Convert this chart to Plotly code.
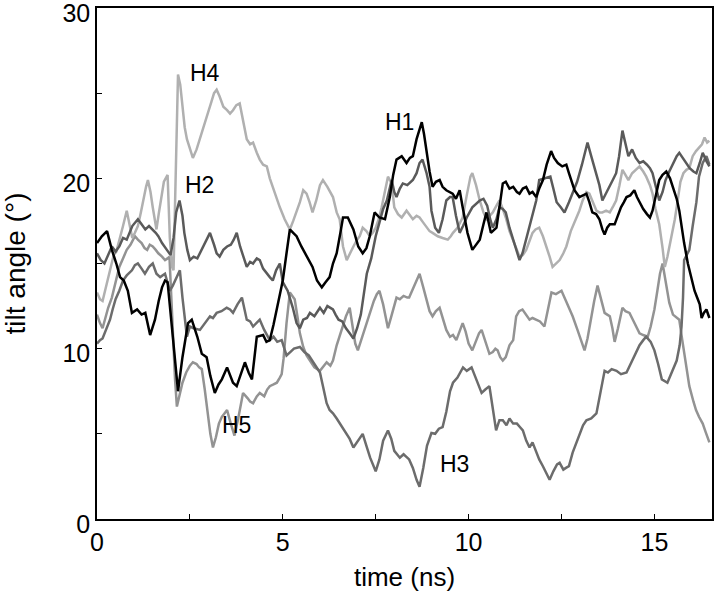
import plotly.graph_objects as go

# tilt angle traces (time in ns, angle in degrees)
h1_t = [0.0, 0.13, 0.27, 0.4, 0.52, 0.62, 0.72, 0.83, 0.94, 1.08, 1.2, 1.3, 1.43, 1.56, 1.66, 1.75, 1.83, 1.9, 2.04, 2.18,
        2.3, 2.45, 2.55, 2.7, 2.82, 2.95, 3.05, 3.17, 3.27, 3.36, 3.5, 3.6, 3.66, 3.76, 3.88, 3.98, 4.08, 4.17, 4.3, 4.47,
        4.56, 4.65, 4.75, 4.84, 4.92, 5.0, 5.1, 5.19, 5.28, 5.37, 5.5, 5.64, 5.8, 5.92, 6.05, 6.15, 6.26, 6.35, 6.45, 6.55,
        6.62, 6.75, 6.9, 7.03, 7.15, 7.25, 7.34, 7.47, 7.6, 7.75, 7.88, 7.97, 8.06, 8.2, 8.33, 8.42, 8.5, 8.6, 8.74, 8.8,
        8.87, 8.95, 9.03, 9.12, 9.22, 9.3, 9.4, 9.57, 9.66, 9.76, 9.84, 9.97, 10.1, 10.2, 10.3, 10.4, 10.48, 10.6, 10.75, 10.85,
        10.92, 11.0, 11.1, 11.2, 11.3, 11.37, 11.46, 11.55, 11.64, 11.72, 11.82, 11.9, 12.0, 12.1, 12.22, 12.3, 12.4, 12.52, 12.63, 12.7,
        12.85, 12.98, 13.07, 13.17, 13.25, 13.33, 13.43, 13.52, 13.6, 13.66, 13.73, 13.8, 13.93, 14.02, 14.1, 14.18, 14.25, 14.35, 14.46, 14.53,
        14.6, 14.7, 14.8, 14.88, 14.95, 15.05, 15.13, 15.22, 15.32, 15.42, 15.5, 15.6, 15.67, 15.73, 15.8, 15.9, 16.0, 16.08, 16.15, 16.22,
        16.27, 16.33, 16.4, 16.48]
h1_y = [16.2, 16.6, 16.9, 15.8, 15.0, 14.2, 14.0, 13.4, 12.1, 12.3, 12.0, 12.1, 10.8, 11.7, 12.8, 13.6, 14.0, 13.9, 10.7, 7.5,
        9.5, 11.5, 11.7, 10.7, 9.7, 9.5, 8.4, 7.4, 7.9, 8.2, 8.9, 8.4, 8.0, 7.8, 8.6, 9.2, 8.6, 8.2, 10.7, 10.8,
        10.4, 10.5, 11.4, 12.3, 13.2, 14.0, 15.6, 17.0, 16.8, 16.6, 16.0, 15.4, 14.8, 14.0, 13.6, 13.9, 14.2, 15.0, 15.6, 16.8,
        17.7, 17.7, 17.0, 16.0, 15.6, 15.9, 16.6, 18.0, 17.7, 17.6, 18.9, 20.2, 21.1, 21.3, 20.9, 21.2, 21.3, 22.3, 23.3, 22.6,
        21.5, 20.4, 19.5, 19.8, 19.9, 19.5, 19.3, 19.1, 18.8, 19.3, 18.3, 16.8, 15.8, 16.1, 16.4, 17.3, 18.0, 16.8, 17.1, 18.6,
        19.7, 19.8, 19.4, 19.5, 19.2, 19.1, 19.4, 19.5, 19.1, 19.2, 18.9, 19.4, 19.9, 20.8, 21.6, 21.2, 20.9, 20.7, 20.8, 20.3,
        19.3, 18.9, 19.0, 19.1, 18.6, 18.0, 17.9, 17.6, 17.0, 16.7, 17.1, 17.3, 17.3, 17.8, 18.3, 18.6, 18.9, 19.0, 19.3, 18.9,
        18.6, 18.2, 17.9, 17.7, 18.1, 19.0, 19.9, 20.2, 20.4, 20.0, 19.5, 18.8, 18.1, 17.1, 16.2, 15.0, 14.0, 13.4, 13.0, 12.6,
        11.8, 12.1, 12.3, 11.8]

h2_t = [0.0, 0.1, 0.2, 0.3, 0.4, 0.5, 0.6, 0.7, 0.8, 0.95, 1.1, 1.2, 1.3, 1.4, 1.5, 1.58, 1.65, 1.75, 1.88, 1.98,
        2.06, 2.13, 2.22, 2.3, 2.35, 2.43, 2.5, 2.6, 2.7, 2.82, 2.93, 3.04, 3.15, 3.22, 3.3, 3.4, 3.5, 3.6, 3.68, 3.76,
        3.85, 3.95, 4.03, 4.12, 4.2, 4.3, 4.38, 4.47, 4.57, 4.65, 4.73, 4.82, 4.92, 5.0, 5.13, 5.27, 5.37, 5.46, 5.55, 5.65,
        5.73, 5.85, 6.0, 6.1, 6.2, 6.35, 6.42, 6.5, 6.6, 6.7, 6.8, 6.9, 7.0, 7.1, 7.18, 7.26, 7.38, 7.5, 7.6, 7.7,
        7.8, 7.93, 8.0, 8.06, 8.15, 8.23, 8.35, 8.5, 8.6, 8.68, 8.76, 8.87, 8.95, 9.0, 9.1, 9.2, 9.3, 9.4, 9.5, 9.57,
        9.66, 9.76, 9.85, 9.95, 10.1, 10.2, 10.3, 10.4, 10.5, 10.58, 10.65, 10.75, 10.83, 10.92, 11.0, 11.1, 11.2, 11.3, 11.37, 11.45,
        11.55, 11.68, 11.82, 11.9, 12.05, 12.2, 12.28, 12.37, 12.48, 12.58, 12.7, 12.8, 12.92, 13.05, 13.2, 13.3, 13.43, 13.52, 13.6, 13.7,
        13.8, 13.88, 13.97, 14.05, 14.14, 14.22, 14.3, 14.4, 14.5, 14.6, 14.7, 14.8, 14.88, 14.95, 15.05, 15.13, 15.22, 15.3, 15.4, 15.5,
        15.6, 15.67, 15.77, 15.86, 15.95, 16.05, 16.13, 16.22, 16.3, 16.4, 16.48]
h2_y = [15.6, 15.2, 15.0, 15.5, 16.0, 15.7, 16.0, 16.5, 16.4, 17.2, 17.6, 17.3, 17.0, 17.2, 17.0, 16.8, 16.6, 16.2, 15.8, 15.5,
        16.5, 18.0, 18.7, 17.8, 16.8, 15.8, 15.2, 15.4, 15.3, 15.8, 16.3, 16.8, 16.1, 15.6, 15.4, 15.8, 16.0, 16.1, 16.4, 16.8,
        16.0, 15.3, 14.8, 15.1, 15.0, 15.3, 15.2, 14.7, 14.4, 14.2, 14.0, 14.6, 15.0, 13.9, 13.4, 12.4, 11.5, 11.2, 11.7, 11.8,
        12.1, 11.9, 12.4, 12.1, 12.5, 12.3, 12.0, 11.7, 11.6, 11.2, 10.9, 10.6, 11.2, 12.0, 13.2, 14.4, 15.3, 16.6, 17.4, 18.2,
        18.7, 19.9, 19.2, 18.9, 19.4, 19.7, 19.6, 19.9, 20.3, 20.9, 21.1, 20.3, 19.5, 18.1, 17.1, 16.8, 17.6, 18.7, 18.9, 18.9,
        17.8, 16.8, 17.2, 17.7, 18.3, 18.5, 18.7, 18.8, 18.4, 17.6, 17.1, 17.6, 18.3, 18.2, 18.0, 17.1, 16.4, 15.6, 15.2, 15.6,
        16.4, 17.5, 18.7, 19.9, 20.0, 20.1, 19.4, 18.6, 18.3, 18.0, 18.6, 19.1, 19.8, 20.8, 22.1, 21.3, 20.3, 19.6, 18.7, 19.1,
        19.5, 19.9, 20.3, 21.3, 22.8, 22.0, 21.3, 21.7, 21.2, 20.9, 21.0, 20.8, 20.6, 20.3, 19.5, 18.7, 19.2, 19.9, 20.4, 20.9,
        21.3, 21.5, 21.2, 20.9, 20.6, 20.4, 20.3, 20.9, 21.5, 21.0, 20.7]

h3_t = [0.0, 0.08, 0.15, 0.25, 0.35, 0.42, 0.5, 0.6, 0.7, 0.8, 0.94, 1.02, 1.1, 1.2, 1.29, 1.4, 1.5, 1.6, 1.7, 1.83,
        1.96, 2.04, 2.1, 2.23, 2.3, 2.37, 2.42, 2.5, 2.6, 2.77, 2.9, 3.04, 3.12, 3.22, 3.35, 3.49, 3.58, 3.66, 3.78, 3.9,
        4.03, 4.12, 4.2, 4.3, 4.38, 4.5, 4.65, 4.75, 4.85, 4.97, 5.1, 5.2, 5.3, 5.46, 5.58, 5.7, 5.85, 6.0, 6.1, 6.18,
        6.26, 6.35, 6.45, 6.6, 6.72, 6.8, 6.9, 7.02, 7.15, 7.25, 7.35, 7.5, 7.6, 7.7, 7.83, 7.92, 8.0, 8.15, 8.25, 8.4,
        8.5, 8.6, 8.68, 8.78, 8.88, 9.0, 9.1, 9.2, 9.3, 9.4, 9.5, 9.58, 9.7, 9.85, 9.95, 10.08, 10.2, 10.35, 10.45, 10.56,
        10.65, 10.74, 10.83, 10.92, 11.02, 11.1, 11.2, 11.3, 11.38, 11.46, 11.55, 11.64, 11.72, 11.82, 11.9, 12.0, 12.1, 12.18, 12.28, 12.38,
        12.45, 12.55, 12.62, 12.7, 12.8, 12.9, 13.0, 13.08, 13.17, 13.3, 13.44, 13.55, 13.66, 13.75, 13.85, 13.98, 14.1, 14.25, 14.38, 14.5,
        14.6, 14.7, 14.78, 14.9, 15.0, 15.1, 15.2, 15.35, 15.45, 15.6, 15.68, 15.73, 15.77, 15.8, 15.87, 15.94, 16.03, 16.13, 16.2, 16.3,
        16.4, 16.48]
h3_y = [10.3, 10.5, 10.6, 11.2, 11.7, 12.3, 12.9, 13.4, 14.0, 14.3, 14.6, 14.9, 15.0, 14.7, 14.4, 14.8, 15.0, 14.4, 14.2, 14.4,
        13.4, 13.7, 14.0, 14.6, 13.0, 11.7, 10.7, 11.3, 11.2, 11.1, 11.5, 11.9, 11.8, 12.1, 12.2, 12.4, 12.3, 12.1, 12.6, 13.0,
        11.7, 11.6, 11.3, 11.5, 11.7, 11.1, 10.5, 10.7, 10.4, 10.5, 9.6, 9.8, 10.0, 10.1, 9.8, 9.6, 9.1, 8.6, 7.6, 6.8,
        6.4, 6.2, 5.9, 5.4, 5.0, 4.7, 4.2, 4.6, 5.0, 4.3, 3.6, 2.8, 3.5, 4.6, 5.2, 4.7, 4.0, 3.6, 3.8, 3.5,
        3.0, 2.3, 1.9, 3.0, 4.3, 5.05, 5.0, 5.3, 5.4, 6.3, 7.5, 8.0, 8.3, 8.9, 8.7, 8.9, 8.2, 7.4, 7.6, 7.8,
        6.5, 5.2, 5.8, 5.8, 5.5, 5.9, 5.6, 5.6, 5.4, 5.2, 4.6, 4.2, 4.5, 3.9, 3.5, 3.1, 2.6, 2.3, 2.8, 3.2,
        3.3, 2.9, 3.0, 3.1, 3.9, 4.5, 5.0, 5.5, 5.8, 5.9, 6.2, 7.5, 8.7, 8.6, 8.8, 8.7, 8.5, 8.6, 9.2, 9.7,
        10.2, 10.5, 10.7, 10.4, 9.9, 9.1, 8.2, 8.0, 8.5, 9.3, 10.2, 11.3, 13.0, 15.2, 15.5, 15.8, 17.2, 18.6, 20.1, 20.9,
        21.3, 20.8]

h4_t = [0.0, 0.08, 0.15, 0.22, 0.3, 0.38, 0.45, 0.52, 0.6, 0.7, 0.8, 0.88, 0.95, 1.02, 1.1, 1.18, 1.25, 1.32, 1.37, 1.44,
        1.5, 1.56, 1.6, 1.66, 1.72, 1.8, 1.9, 1.93, 1.96, 2.02, 2.06, 2.1, 2.14, 2.18, 2.24, 2.3, 2.36, 2.42, 2.5, 2.58,
        2.68, 2.77, 2.86, 2.96, 3.08, 3.15, 3.22, 3.3, 3.4, 3.5, 3.58, 3.66, 3.75, 3.84, 3.93, 4.03, 4.12, 4.2, 4.3, 4.38,
        4.47, 4.57, 4.65, 4.73, 4.82, 4.92, 5.05, 5.19, 5.28, 5.37, 5.46, 5.55, 5.64, 5.72, 5.8, 5.9, 6.0, 6.08, 6.2, 6.35,
        6.45, 6.53, 6.62, 6.72, 6.8, 6.9, 7.0, 7.07, 7.15, 7.25, 7.34, 7.42, 7.5, 7.58, 7.66, 7.75, 7.83, 7.93, 8.0, 8.1,
        8.2, 8.33, 8.42, 8.5, 8.6, 8.68, 8.78, 8.87, 8.95, 9.03, 9.17, 9.3, 9.44, 9.52, 9.58, 9.7, 9.84, 9.95, 10.05, 10.1,
        10.2, 10.3, 10.4, 10.48, 10.57, 10.65, 10.75, 10.83, 10.92, 11.0, 11.1, 11.2, 11.3, 11.37, 11.46, 11.55, 11.64, 11.72, 11.8, 11.9,
        12.0, 12.1, 12.18, 12.26, 12.35, 12.45, 12.55, 12.63, 12.75, 12.9, 12.98, 13.07, 13.17, 13.25, 13.35, 13.44, 13.52, 13.6, 13.7, 13.8,
        13.9, 13.97, 14.06, 14.14, 14.22, 14.3, 14.4, 14.5, 14.6, 14.7, 14.78, 14.88, 14.95, 15.03, 15.13, 15.22, 15.28, 15.35, 15.45, 15.55,
        15.62, 15.7, 15.78, 15.86, 15.94, 16.03, 16.12, 16.2, 16.28, 16.35, 16.42, 16.48]
h4_y = [13.3, 12.9, 12.8, 13.4, 14.2, 14.9, 15.5, 15.7, 16.3, 17.2, 18.1, 17.3, 16.5, 16.8, 17.2, 18.0, 18.8, 19.5, 19.9, 19.2,
        18.3, 17.6, 17.0, 17.9, 18.8, 19.8, 20.2, 18.5, 16.5, 14.8, 14.6, 18.5, 22.5, 26.1, 25.5, 24.2, 23.0, 22.3, 21.7, 21.2,
        21.7, 22.3, 22.9, 23.6, 24.5, 25.0, 25.2, 24.8, 24.2, 24.0, 23.8, 24.0, 24.3, 24.4, 23.4, 22.3, 22.0, 22.1, 21.5, 21.1,
        20.8, 20.7, 20.0, 19.5, 18.9, 18.3, 17.6, 17.0, 17.5, 18.0, 18.6, 19.3, 19.1, 18.6, 18.0, 18.7, 19.6, 19.9, 19.5, 18.9,
        18.0, 17.6, 16.0, 15.2, 15.6, 16.0, 16.4, 16.6, 17.1, 16.9, 16.6, 16.8, 17.1, 17.6, 18.3, 19.2, 20.1, 19.7, 18.3, 17.9,
        17.7, 18.1, 17.8, 17.6, 17.8, 17.7, 17.4, 17.1, 16.9, 16.8, 16.6, 16.5, 16.4, 16.6, 16.8, 17.1, 17.7, 19.0, 20.1, 20.3,
        19.6, 18.7, 18.0, 17.6, 17.8, 18.0, 18.4, 18.7, 18.2, 17.7, 16.9, 16.4, 15.8, 15.4, 15.5, 15.8, 16.3, 16.8, 17.0, 17.1,
        16.6, 16.0, 15.4, 14.8, 15.0, 15.2, 15.6, 16.0, 16.9, 17.7, 18.1, 18.7, 19.2, 19.1, 18.6, 18.1, 18.0, 18.0, 18.1, 18.0,
        18.4, 18.7, 19.6, 20.5, 20.2, 19.9, 20.3, 20.5, 20.7, 20.4, 20.1, 19.6, 19.1, 18.2, 17.3, 15.9, 14.8, 15.4, 16.5, 17.6,
        18.6, 19.8, 20.3, 20.5, 20.6, 21.3, 21.6, 21.8, 22.0, 22.4, 22.1, 22.2]

h5_t = [0.0, 0.08, 0.15, 0.22, 0.3, 0.4, 0.5, 0.6, 0.7, 0.8, 0.9, 1.02, 1.1, 1.2, 1.28, 1.35, 1.42, 1.5, 1.58, 1.65,
        1.75, 1.83, 1.9, 1.95, 2.0, 2.05, 2.1, 2.15, 2.22, 2.3, 2.4, 2.5, 2.58, 2.68, 2.75, 2.82, 2.9, 2.98, 3.05, 3.12,
        3.2, 3.28, 3.36, 3.43, 3.5, 3.6, 3.7, 3.8, 3.93, 4.05, 4.12, 4.2, 4.3, 4.38, 4.5, 4.58, 4.65, 4.75, 4.84, 4.92,
        4.97, 5.02, 5.1, 5.19, 5.25, 5.32, 5.4, 5.46, 5.55, 5.64, 5.73, 5.85, 6.0, 6.1, 6.18, 6.28, 6.35, 6.45, 6.55, 6.62,
        6.7, 6.8, 6.88, 6.95, 7.02, 7.12, 7.25, 7.35, 7.45, 7.53, 7.6, 7.7, 7.78, 7.83, 7.92, 8.0, 8.06, 8.15, 8.25, 8.35,
        8.4, 8.5, 8.6, 8.68, 8.78, 8.88, 8.95, 9.03, 9.12, 9.22, 9.3, 9.4, 9.5, 9.58, 9.67, 9.75, 9.84, 9.92, 10.0, 10.1,
        10.2, 10.28, 10.35, 10.45, 10.56, 10.65, 10.72, 10.78, 10.85, 10.92, 11.0, 11.1, 11.2, 11.28, 11.36, 11.45, 11.55, 11.64, 11.72, 11.82,
        11.92, 12.04, 12.12, 12.23, 12.35, 12.5, 12.6, 12.7, 12.8, 12.93, 13.03, 13.12, 13.2, 13.3, 13.38, 13.47, 13.55, 13.6, 13.66, 13.73,
        13.8, 13.87, 13.93, 14.02, 14.08, 14.14, 14.22, 14.33, 14.42, 14.5, 14.6, 14.7, 14.82, 14.9, 15.0, 15.08, 15.15, 15.22, 15.3, 15.4,
        15.5, 15.6, 15.67, 15.75, 15.85, 15.94, 16.05, 16.12, 16.2, 16.3, 16.38, 16.48]
h5_y = [12.0, 11.5, 11.2, 11.8, 12.4, 13.0, 14.0, 14.8, 15.3, 15.8, 16.1, 16.6, 16.4, 16.2, 15.9, 15.8, 16.1, 16.0, 15.8, 15.6,
        15.4, 15.2, 15.3, 15.4, 13.0, 10.5, 8.2, 6.6, 7.2, 8.0, 8.6, 9.0, 9.2, 9.1, 8.9, 8.8, 7.6, 6.2, 5.0, 4.2,
        4.8, 5.6, 6.0, 6.2, 6.4, 5.6, 4.9, 5.9, 7.4, 7.1, 6.9, 6.8, 7.2, 7.4, 7.2, 7.6, 7.8, 7.9, 8.0, 8.3,
        8.5, 9.4, 11.5, 13.3, 13.1, 12.9, 11.8, 10.9, 10.1, 9.6, 9.3, 8.9, 8.7, 9.0, 9.2, 9.0, 9.3, 10.2, 10.9, 11.3,
        11.9, 12.4, 11.4, 10.3, 9.9, 10.6, 11.5, 12.2, 12.8, 13.2, 13.4, 12.6, 11.6, 11.2, 11.9, 12.6, 13.0, 12.9, 13.1, 13.0,
        13.0, 13.5, 14.0, 14.4, 13.6, 12.8, 12.2, 11.9, 12.2, 12.4, 11.8, 11.1, 10.7, 10.8, 10.5, 11.0, 11.5, 11.0, 10.3, 9.9,
        10.4, 10.9, 11.1, 10.4, 9.7, 9.8, 10.0, 9.9, 9.5, 9.3, 9.5, 10.2, 10.5, 11.9, 12.2, 12.3, 12.0, 11.7, 11.8, 11.7,
        11.6, 11.3, 12.2, 13.3, 13.2, 13.4, 12.9, 12.4, 11.9, 11.1, 10.5, 9.9, 10.6, 11.9, 12.8, 13.7, 13.0, 12.5, 12.1, 12.0,
        11.9, 11.2, 10.4, 11.2, 11.9, 12.4, 12.2, 12.1, 11.7, 11.3, 10.9, 10.8, 10.7, 11.3, 12.3, 13.4, 14.4, 15.0, 14.0, 12.7,
        12.0, 11.8, 11.7, 10.5, 9.1, 7.8, 6.9, 6.4, 6.0, 5.6, 5.1, 4.5]

series = [
    ('H1', h1_t, h1_y, '#000000'),
    ('H2', h2_t, h2_y, '#5a5a5a'),
    ('H3', h3_t, h3_y, '#6c6c6c'),
    ('H4', h4_t, h4_y, '#b0b0b0'),
    ('H5', h5_t, h5_y, '#939393'),
]

# label name, x, y (data coords)
labels = [('H4', 2.9, 26.2), ('H2', 2.77, 19.6), ('H1', 8.15, 23.3), ('H5', 3.76, 5.5), ('H3', 9.62, 3.2)]

fig = go.Figure()
# draw lightest first so black ends up on top
for name, t, y, c in reversed(series):
    fig.add_trace(go.Scatter(x=t, y=y, mode='lines', name=name,
                             line=dict(color=c, width=2.5)))

for name, lx, ly in labels:
    fig.add_annotation(x=lx, y=ly, text=name, showarrow=False,
                       font=dict(size=23, color='black'))

xt = [0, 2.5, 5, 7.5, 10, 12.5, 15]
yt = [0, 5, 10, 15, 20, 25, 30]

axis_style = dict(showline=True, linecolor='black', linewidth=1.5, mirror=True,
                  ticks='inside', ticklen=5, tickcolor='black', showgrid=False, zeroline=False,
                  automargin=False, ticklabeloverflow='allow', tickfont=dict(size=25, color='black'))

fig.update_layout(
    width=720, height=593,
    font=dict(family='Liberation Sans, Arial, sans-serif', color='black'),
    showlegend=False,
    plot_bgcolor='white',
    paper_bgcolor='white',
    margin=dict(l=97, r=8, t=8, b=74),
    xaxis=dict(range=[0, 16.55], tickvals=xt,
               ticktext=[str(v) if v % 5 == 0 else '' for v in xt],
               title=dict(text='time (ns)', font=dict(size=26), standoff=13), **axis_style),
    yaxis=dict(range=[0, 30], tickvals=yt, ticklabelshift=5,
               ticktext=[str(v) if v % 10 == 0 else '' for v in yt],
               title=dict(text='tilt angle (°)', font=dict(size=28), standoff=37), **axis_style),
)

# the page's default 8px body margin would shift the whole figure
fig.write_html("out.html", config={'displayModeBar': False},
               post_script="document.body.style.margin = '0px';")
